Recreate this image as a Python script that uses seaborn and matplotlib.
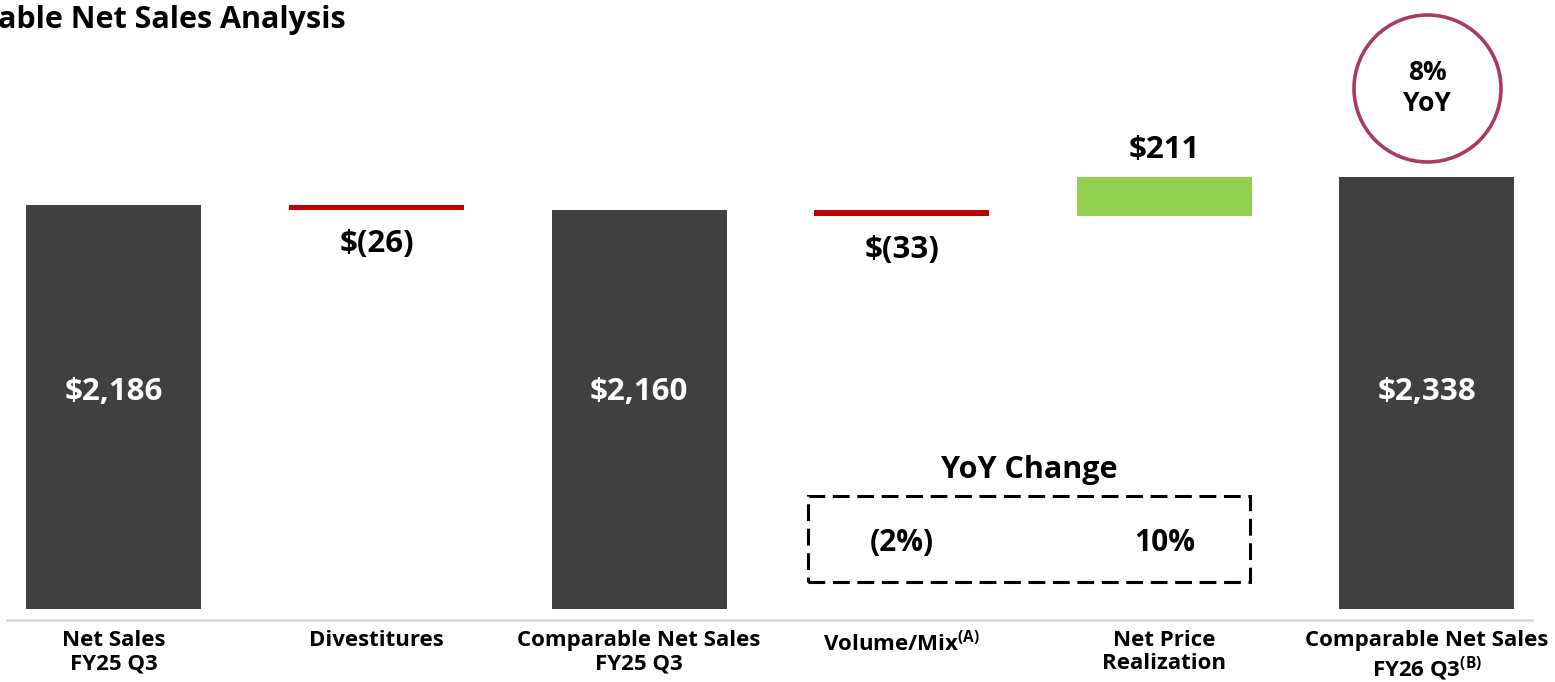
import matplotlib
matplotlib.use("Agg")
import matplotlib.pyplot as plt
from matplotlib.patches import Rectangle
import seaborn as sns
import pandas as pd

# -----------------------------
# DATA
# -----------------------------
categories = [
    "Net Sales\nFY25 Q3",
    "Divestitures",
    "Comparable Net Sales\nFY25 Q3",
    r"Volume/Mix$^{\mathbf{(A)}}$",
    "Net Price\nRealization",
    "Comparable Net Sales\n" + r"FY26 Q3$^{\mathbf{(B)}}$",
]
steps = [2186, -26, 2160, -33, 211, 2338]
is_total = [True, False, True, False, False, True]
value_labels = ["$2,186", "$(26)", "$2,160", "$(33)", "$211", "$2,338"]
yoy_labels = ["(2%)", "10%"]
yoy_idx = [3, 4]
circle_text = "8%\nYoY"

# build waterfall bottoms / heights
bottoms, heights = [], []
running = 0
for v, tot in zip(steps, is_total):
    if tot:
        bottoms.append(0)
        heights.append(v)
        running = v
    else:
        new = running + v
        bottoms.append(min(running, new))
        heights.append(abs(v))
        running = new

df = pd.DataFrame({"cat": categories, "height": heights, "bottom": bottoms})

DARK = "#404040"
RED = "#C00000"
GREEN = "#92D050"
colors = [DARK if t else (RED if s < 0 else GREEN) for s, t in zip(steps, is_total)]

# -----------------------------
# STYLE
# -----------------------------
sns.set_style("white")
plt.rcParams["font.family"] = ["Open Sans", "DejaVu Sans"]
plt.rcParams["text.color"] = "black"
plt.rcParams["xtick.color"] = "black"
plt.rcParams["mathtext.fontset"] = "custom"
plt.rcParams["mathtext.rm"] = "Open Sans"
plt.rcParams["mathtext.bf"] = "Open Sans:bold"

fig = plt.figure(figsize=(15.55, 6.82), dpi=100)
ax = fig.add_axes([0.0045, 0.0909, 0.9807, 0.9091])

sns.barplot(data=df, x="cat", y="height", bottom=df["bottom"].values,
            order=categories, color=DARK, width=0.666, ax=ax, saturation=1)
for p, c in zip(ax.patches, colors):
    p.set_facecolor(c)
    p.set_edgecolor("none")

ax.set_xlim(-0.407, 5.40)
ax.set_ylim(-59.5, 3295)

# -----------------------------
# LABELS
# -----------------------------
LABEL_Y = 1174
for i, (p, lab) in enumerate(zip(ax.patches, value_labels)):
    xc = p.get_x() + p.get_width() / 2
    if is_total[i]:
        ax.text(xc, LABEL_Y, lab, ha="center", va="center", color="white",
                fontsize=22.5, fontweight="bold")
    elif steps[i] < 0:
        ax.annotate(lab, (xc, p.get_y()), xytext=(0, -24.5), textcoords="offset points",
                    ha="center", va="center", fontsize=22.5, fontweight="bold")
    else:
        ax.annotate(lab, (xc, p.get_y() + p.get_height()), xytext=(0, 19.5),
                    textcoords="offset points", ha="center", va="center",
                    fontsize=22.5, fontweight="bold")

# YoY change box
ax.add_patch(Rectangle((2.643, 146), 4.326 - 2.643, 611 - 146, fill=False,
                       edgecolor="black", linewidth=2.2, linestyle=(0, (5.5, 2.5))))
ax.text((2.643 + 4.326) / 2, 752, "YoY Change", ha="center", va="center",
        fontsize=22, fontweight="bold")
for i, t in zip(yoy_idx, yoy_labels):
    ax.text(i, 357, t, ha="center", va="center", fontsize=21.5, fontweight="bold")

# circle callout
ax.scatter([5], [2819], s=11200, facecolors="white", edgecolors="#A93A66",
           linewidths=2.6, clip_on=False, zorder=5)
ax.text(5, 2819, circle_text, ha="center", va="center", fontsize=19,
        fontweight="bold", linespacing=1.15, zorder=6)

# axes cosmetics
sns.despine(ax=ax, left=True)
ax.spines["bottom"].set_color("#d9d9d9")
ax.spines["bottom"].set_linewidth(2)
ax.set_yticks([])
ax.set_xlabel("")
ax.set_ylabel("")
ax.tick_params(axis="x", length=0, pad=7)
ax.set_xticks(range(len(categories)))
ax.set_xticklabels(categories, fontsize=16, fontweight="bold", linespacing=1.15, va="top")

fig.text(-0.001, 0.971, "able Net Sales Analysis", ha="left", va="center",
         fontsize=22, fontweight="bold")

fig.savefig("out.png", dpi=100)
